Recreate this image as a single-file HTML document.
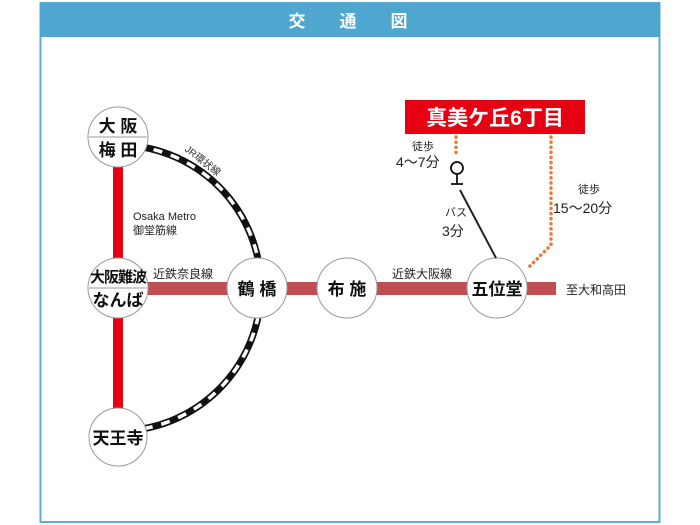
<!DOCTYPE html>
<html><head><meta charset="utf-8"><style>
body{margin:0;background:#fff;width:700px;height:525px;overflow:hidden}
svg{display:block}
text{font-family:"Liberation Sans","Noto Sans CJK JP",sans-serif}
</style></head><body>
<svg width="700" height="525" viewBox="0 0 700 525">
<rect x="40.5" y="3" width="619" height="519" fill="#fff" stroke="#5aaed3" stroke-width="2"/>
<rect x="40" y="3" width="620" height="34" fill="#4fa7cf"/>
<text x="297" y="27" font-size="17" font-weight="bold" fill="#fff" text-anchor="middle">交</text>
<text x="348" y="27" font-size="17" font-weight="bold" fill="#fff" text-anchor="middle">通</text>
<text x="399" y="27" font-size="17" font-weight="bold" fill="#fff" text-anchor="middle">図</text>
<rect x="113" y="140" width="10" height="300" fill="#e60012"/>
<rect x="118" y="282" width="438" height="13" fill="#bf4d52"/>
<path d="M118 145 A143 143 0 0 1 118 431" fill="none" stroke="#111" stroke-width="7"/>
<path d="M118 145 A143 143 0 0 1 118 431" fill="none" stroke="#fff" stroke-width="3.5" stroke-dasharray="9 9"/>
<text x="182" y="160" font-size="10" fill="#333" transform="rotate(38 197 158)">JR環状線</text>
<g fill="#fff" stroke="#999" stroke-width="1">
<circle cx="118" cy="137" r="30"/><circle cx="118" cy="288" r="30"/><circle cx="118" cy="437" r="29"/>
<circle cx="257" cy="288" r="30"/><circle cx="347" cy="288" r="30"/><circle cx="497" cy="288" r="30"/>
</g>
<line x1="89" y1="137" x2="147" y2="137" stroke="#999"/>
<line x1="89" y1="288" x2="147" y2="288" stroke="#999"/>
<g font-size="17" fill="#111" text-anchor="middle" font-weight="bold">
<text x="118" y="132">大 阪</text><text x="118" y="156">梅 田</text>
<text x="118" y="282" font-size="15" letter-spacing="-1">大阪難波</text><text x="118" y="306">なんば</text>
<text x="118" y="444">天王寺</text>
<text x="257" y="295">鶴 橋</text><text x="347" y="295">布 施</text><text x="497" y="295">五位堂</text>
</g>
<g font-size="11" fill="#222">
<text x="133" y="220">Osaka Metro</text><text x="133" y="234">御堂筋線</text>
<text x="153" y="278" font-size="12">近鉄奈良線</text>
<text x="392" y="278" font-size="12">近鉄大阪線</text>
<text x="566" y="294" font-size="12">至大和高田</text>
</g>
<rect x="405" y="100" width="180" height="34" fill="#e60012"/>
<text x="495" y="125" font-size="21" font-weight="bold" fill="#fff" text-anchor="middle">真美ケ丘6丁目</text>
<g stroke="#ec7a35" stroke-width="3.5" stroke-dasharray="0.1 5" stroke-linecap="round" fill="none">
<line x1="456" y1="137" x2="456" y2="153"/>
<path d="M551 137 L551 245 L528 268"/>
</g>
<circle cx="457" cy="168" r="6" fill="#fff" stroke="#111" stroke-width="1.8"/>
<line x1="457" y1="174" x2="457" y2="184" stroke="#111" stroke-width="1.8"/>
<line x1="451" y1="184" x2="463" y2="184" stroke="#111" stroke-width="1.8"/>
<line x1="460" y1="190" x2="496" y2="258" stroke="#222" stroke-width="2"/>
<g fill="#222">
<text x="412" y="150" font-size="11">徒歩</text>
<text x="396" y="167" font-size="14">4〜7分</text>
<text x="445" y="216" font-size="11">バス</text>
<text x="442" y="236" font-size="14">3分</text>
<text x="578" y="193" font-size="11">徒歩</text>
<text x="553" y="213" font-size="14">15〜20分</text>
</g>
</svg>
</body></html>
